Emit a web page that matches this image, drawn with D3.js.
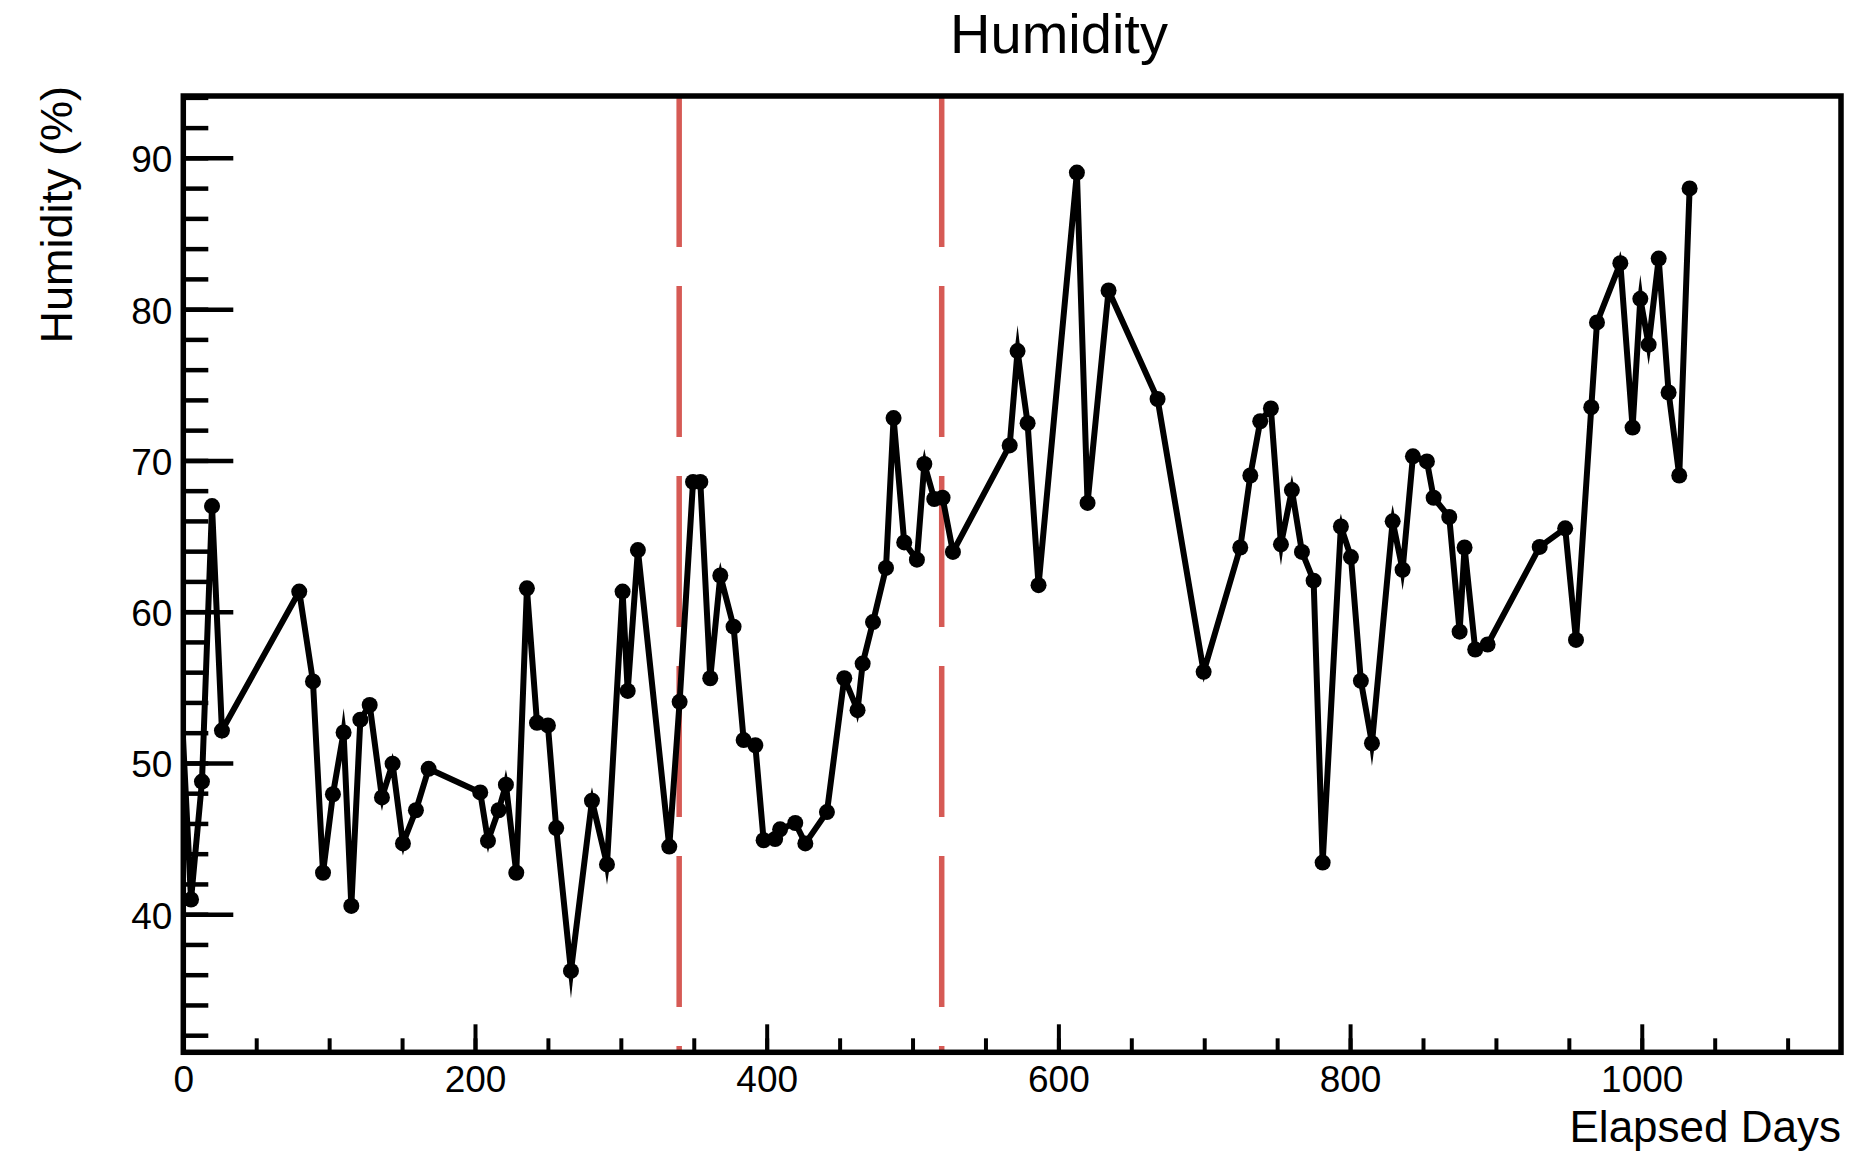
<!DOCTYPE html>
<html>
<head>
<meta charset="utf-8">
<script src="https://cdn.jsdelivr.net/npm/d3@7"></script>
<style>
  html, body { margin: 0; padding: 0; background: #fff; }
  text { font-family: "Liberation Sans", Arial, Helvetica, sans-serif; fill: #000; }
</style>
</head>
<body>
<div id="chart"></div>
<script>
// data
const days = [
  -3.5, 5.3, 12.8, 19.7, 26.5, 79.5, 88.9, 95.8, 102.6, 109.9,
  115.2, 121.4, 127.8, 136.2, 143.5, 150.6, 159.5, 168.2, 203.6, 208.9,
  216.2, 221.2, 228.3, 235.6, 242.5, 250.0, 255.7, 265.8, 280.2, 290.5,
  301.2, 304.7, 311.7, 333.2, 340.3, 349.5, 354.5, 361.3, 368.2, 377.3,
  384.2, 392.2, 397.9, 405.8, 409.2, 419.6, 426.5, 441.3, 453.2, 462.3,
  465.8, 472.9, 481.8, 487.0, 494.3, 503.0, 508.1, 514.9, 520.6, 527.7,
  566.6, 572.0, 578.9, 586.4, 612.7, 620.0, 634.4, 668.0, 699.6, 724.7,
  731.6, 738.4, 745.7, 752.6, 760.1, 767.0, 775.0, 781.2, 793.7, 800.6,
  807.4, 815.0, 829.2, 836.0, 843.1, 852.7, 857.3, 868.0, 875.1, 878.5,
  885.8, 894.3, 930.0, 947.5, 954.9, 965.4, 969.3, 985.3, 993.7, 999.0,
  1004.7, 1011.6, 1018.4, 1025.7, 1032.8
];
const humidity = [
  58.0, 40.97, 48.77, 66.98, 52.14, 61.33, 55.39, 42.74, 47.93, 52.01,
  40.55, 52.86, 53.83, 47.72, 49.95, 44.68, 46.87, 49.61, 48.05, 44.85,
  46.87, 48.56, 42.74, 61.54, 52.65, 52.48, 45.69, 36.25, 47.50, 43.29,
  61.33, 54.76, 64.07, 44.47, 54.04, 68.58, 68.58, 55.6, 62.39, 59.01,
  51.51, 51.17, 44.89, 44.97, 45.61, 46.03, 44.68, 46.75, 55.6, 53.49,
  56.57, 59.31, 62.89, 72.8, 64.58, 63.44, 69.76, 67.45, 67.53, 63.95,
  70.99, 77.23, 72.46, 61.75, 89.03, 67.19, 81.23, 74.06, 56.02, 64.24,
  69.0, 72.59, 73.43, 64.45, 68.04, 63.95, 62.05, 43.41, 65.63, 63.61,
  55.43, 51.30, 65.97, 62.77, 70.27, 69.93, 67.53, 66.26, 58.68, 64.24,
  57.5, 57.83, 64.28, 65.51, 58.13, 73.52, 79.12, 83.04, 72.17, 80.68,
  77.65, 83.34, 74.49, 69.0, 87.98
];
const humidityErr = [
  0, 0, 0, 0, 0.6, 0, 0, 0, 0, 1.6,
  0, 0, 0, 0.9, 0.7, 0.8, 0, 0, 0, 0.8,
  0, 1.0, 0, 0, 0, 0, 0, 1.8, 0.9, 1.35,
  0, 0, 0, 0, 0, 0, 0, 0, 0.9, 0,
  0, 0, 0, 0, 0, 0, 0, 0, 0.5, 0.85,
  0, 0, 0, 0, 0, 0, 1.0, 0, 0, 0,
  0, 1.7, 0, 0, 0, 0, 0.5, 0, 0.7, 0,
  0, 0, 0, 1.4, 1.0, 0, 0, 0, 0.85, 0,
  0, 1.5, 1.1, 1.35, 0, 0, 0, 0, 0, 0,
  0, 0, 0, 0, 0, 0, 0, 0.8, 0, 1.6,
  1.35, 0.5, 0, 0, 0
];
const cutDays = [340, 520];
const xTickLabels = [0, 200, 400, 600, 800, 1000];
const yTickLabels = [40, 50, 60, 70, 80, 90];

const width = 1874;
const height = 1158;
const frame = { left: 183.3, top: 96, right: 1841, bottom: 1052.3 };

const svg = d3
  .select("#chart")
  .append("svg")
  .attr("width", width)
  .attr("height", height);

svg.append("rect").attr("width", width).attr("height", height).attr("fill", "#fff");

const x = d3.scaleLinear().domain([0, 1136.6]).range([frame.left, frame.right]);
const y = d3.scaleLinear().domain([30.87, 94.09]).range([frame.bottom, frame.top]);

// clip to the frame
svg
  .append("clipPath")
  .attr("id", "plot-clip")
  .append("rect")
  .attr("x", frame.left)
  .attr("y", frame.top)
  .attr("width", frame.right - frame.left)
  .attr("height", frame.bottom - frame.top);

// x axis ticks
const xMinor = svg
  .append("g")
  .attr("transform", `translate(0,${frame.bottom})`)
  .call(d3.axisBottom(x).tickValues(d3.range(0, 1137, 50)).tickSize(-14).tickFormat(""));
const xMajor = svg
  .append("g")
  .attr("transform", `translate(0,${frame.bottom})`)
  .call(d3.axisBottom(x).tickValues(xTickLabels).tickSize(-28).tickPadding(13).tickFormat(d3.format("d")));
[xMinor, xMajor].forEach((g) => {
  g.select(".domain").remove();
  g.selectAll(".tick line").attr("stroke", "#000").attr("stroke-width", 4);
});
xMajor.selectAll(".tick text").attr("font-size", 37).style("font-family", "Liberation Sans, Arial, sans-serif");

// y axis ticks
const yMinor = svg
  .append("g")
  .attr("transform", `translate(${frame.left},0)`)
  .call(d3.axisLeft(y).tickValues(d3.range(32, 95, 2)).tickSize(-25).tickFormat(""));
const yMajor = svg
  .append("g")
  .attr("transform", `translate(${frame.left},0)`)
  .call(d3.axisLeft(y).tickValues(yTickLabels).tickSize(-50).tickPadding(11).tickFormat(d3.format("d")));
[yMinor, yMajor].forEach((g) => {
  g.select(".domain").remove();
  g.selectAll(".tick line").attr("stroke", "#000").attr("stroke-width", 4.5);
});
yMajor
  .selectAll(".tick text")
  .attr("font-size", 37)
  .attr("dy", "0.38em")
  .style("font-family", "Liberation Sans, Arial, sans-serif");

// red dashed cut lines
svg
  .append("g")
  .selectAll("line")
  .data(cutDays)
  .join("line")
  .attr("x1", (d) => x(d))
  .attr("x2", (d) => x(d))
  .attr("y1", frame.top)
  .attr("y2", frame.bottom)
  .attr("stroke", "#d65a55")
  .attr("stroke-width", 5.5)
  .attr("stroke-dasharray", "151 39");

const points = days.map((d, i) => ({ day: d, value: humidity[i], err: humidityErr[i] }));
const plot = svg.append("g").attr("clip-path", "url(#plot-clip)");

// graph line
plot
  .append("path")
  .datum(points)
  .attr("fill", "none")
  .attr("stroke", "#000")
  .attr("stroke-width", 6)
  .attr("stroke-linejoin", "round")
  .attr("d", d3.line().x((d) => x(d.day)).y((d) => y(d.value)));

// error bars (spikes)
plot
  .append("g")
  .selectAll("path")
  .data(points.filter((d) => d.err > 0))
  .join("path")
  .attr("fill", "#000")
  .attr("d", (d) => {
    const cx = x(d.day);
    const cy = y(d.value);
    const top = y(d.value + d.err);
    const bot = y(d.value - d.err);
    return `M${cx - 3},${cy}L${cx},${top}L${cx + 3},${cy}L${cx},${bot}Z`;
  });

// markers
plot
  .append("g")
  .selectAll("circle")
  .data(points)
  .join("circle")
  .attr("cx", (d) => x(d.day))
  .attr("cy", (d) => y(d.value))
  .attr("r", 8)
  .attr("fill", "#000");

// frame
svg
  .append("rect")
  .attr("x", frame.left)
  .attr("y", frame.top)
  .attr("width", frame.right - frame.left)
  .attr("height", frame.bottom - frame.top)
  .attr("fill", "none")
  .attr("stroke", "#000")
  .attr("stroke-width", 5.5);

// title and axis titles
svg
  .append("text")
  .attr("x", 1059)
  .attr("y", 53)
  .attr("text-anchor", "middle")
  .attr("font-size", 56)
  .text("Humidity");

svg
  .append("text")
  .attr("transform", "translate(72,86) rotate(-90)")
  .attr("text-anchor", "end")
  .attr("font-size", 45)
  .text("Humidity (%)");

svg
  .append("text")
  .attr("x", frame.right)
  .attr("y", 1142)
  .attr("text-anchor", "end")
  .attr("font-size", 44)
  .text("Elapsed Days");
</script>
</body>
</html>
